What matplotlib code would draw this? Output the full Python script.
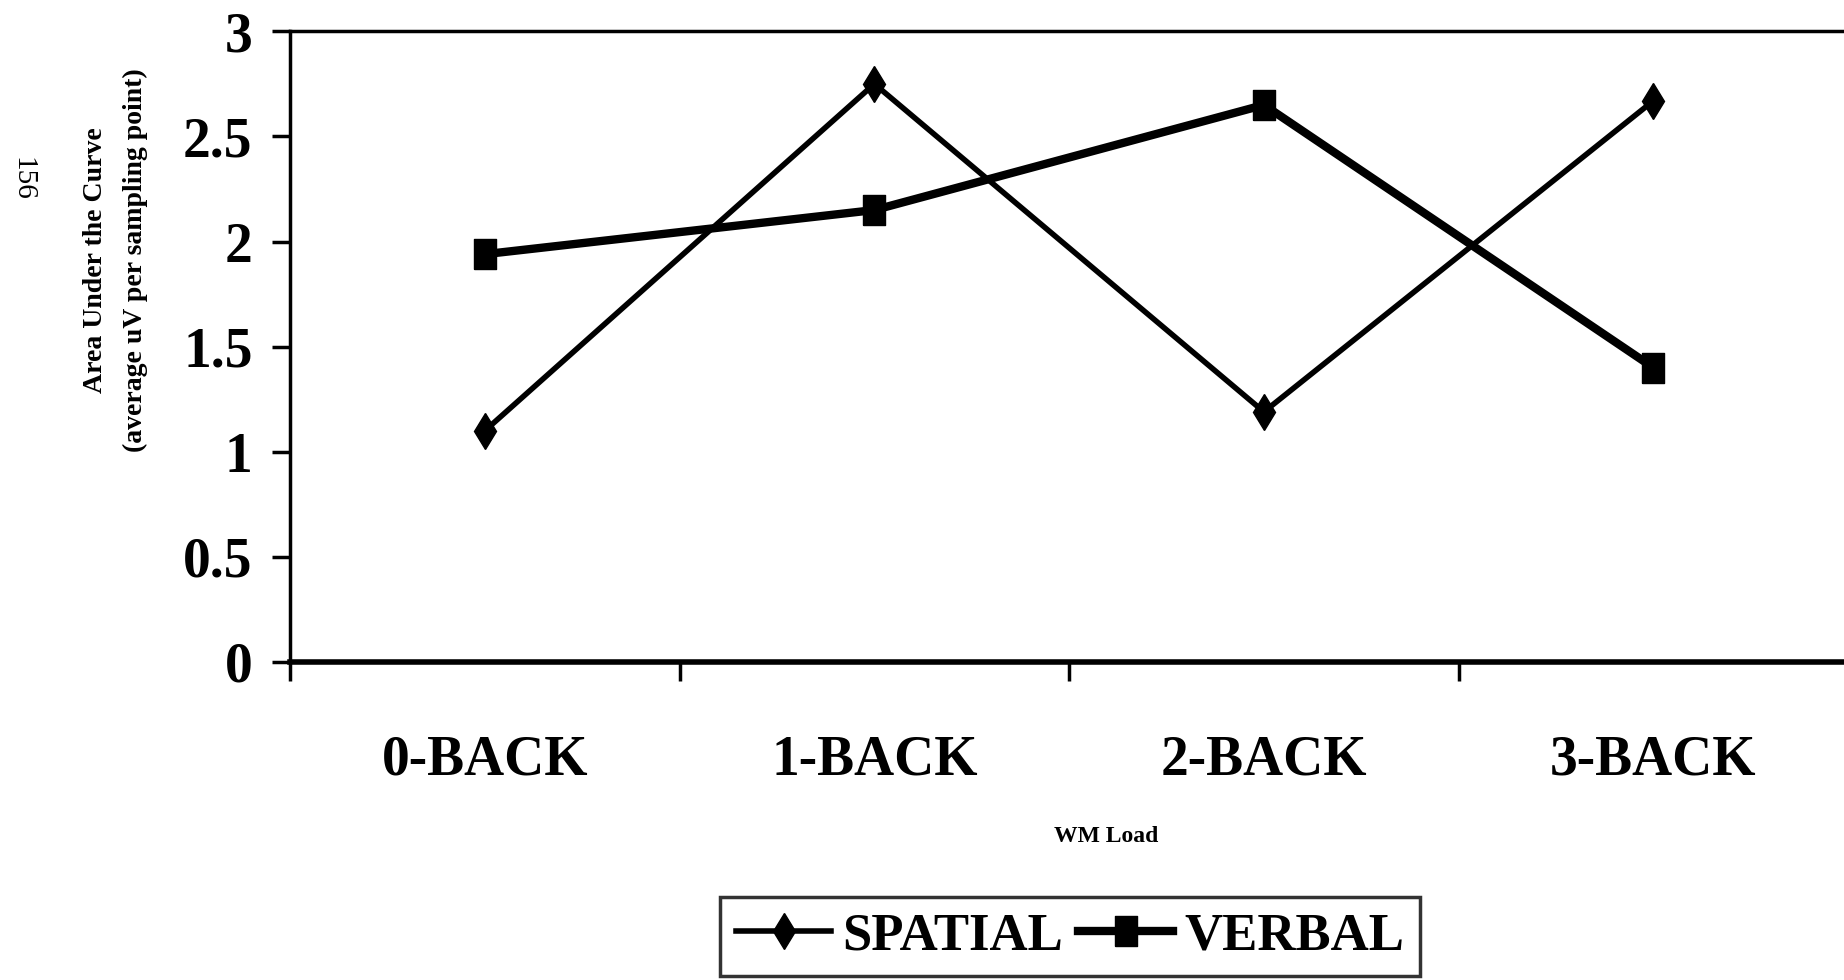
import matplotlib.pyplot as plt
from matplotlib.ticker import FixedLocator, NullFormatter

plt.rcParams["font.family"] = ["Liberation Serif", "DejaVu Serif"]
plt.rcParams["font.weight"] = "bold"

loads = ["0-BACK", "1-BACK", "2-BACK", "3-BACK"]
spatial = [1.10, 2.75, 1.19, 2.67]
verbal = [1.94, 2.15, 2.65, 1.40]
yticks = [0, 0.5, 1, 1.5, 2, 2.5, 3]
ytick_labels = ["0", "0.5", "1", "1.5", "2", "2.5", "3"]

fig = plt.figure(figsize=(18.44, 9.8), dpi=100)
ax = fig.add_axes([0.1573, 0.3245, 0.845, 0.6435])

x = list(range(len(loads)))
rect = [(-0.7, -1), (0.7, -1), (0.7, 1), (-0.7, 1), (-0.7, -1)]
ax.plot(x, spatial, color="black", lw=4, marker="d", ms=18, label="SPATIAL")
ax.plot(x, verbal, color="black", lw=6, marker=rect, ms=22, label="VERBAL")

ax.set_xlim(-0.5, 3.5)
ax.set_ylim(0, 3)
ax.set_yticks(yticks)
ax.set_yticklabels(ytick_labels, fontsize=40, fontweight="bold")
ax.tick_params(axis="y", length=13, width=2.5, pad=14)

# category boundaries carry the tick marks, centres carry the labels
ax.xaxis.set_major_locator(FixedLocator([-0.5, 0.5, 1.5, 2.5]))
ax.xaxis.set_major_formatter(NullFormatter())
ax.xaxis.set_minor_locator(FixedLocator(x))
ax.set_xticklabels(loads, minor=True, fontsize=40, fontweight="bold")
ax.tick_params(axis="x", which="major", length=14, width=2.5)
ax.tick_params(axis="x", which="minor", length=0, pad=52)

ax.spines["left"].set_linewidth(2.5)
ax.spines["top"].set_linewidth(2.5)
ax.spines["bottom"].set_linewidth(4)
ax.spines["right"].set_visible(False)

ax.set_ylabel("Area Under the Curve\n(average uV per sampling point)",
              fontsize=20, fontweight="bold", linespacing=1.8,
              ha="center", va="center")
ax.yaxis.set_label_coords(-0.112, 0.637)
ax.set_xlabel("WM Load", fontsize=17, fontweight="bold", va="center")
ax.xaxis.set_label_coords(0.524, -0.277)

leg = ax.legend(loc="upper center", bbox_to_anchor=(1070 / 1844, 0.085),
                bbox_transform=fig.transFigure, ncol=2, borderaxespad=0,
                frameon=True, fancybox=False, handlelength=1.8,
                handletextpad=0.2, columnspacing=0.3, borderpad=0.3,
                prop={"weight": "bold", "size": 38})
leg.get_frame().set_edgecolor("black")
leg.get_frame().set_linewidth(2.5)

fig.text(0.012, 0.817, "156", rotation=-90, fontsize=21, fontweight="normal",
         ha="center", va="center")

fig.savefig("out.png", dpi=100)
